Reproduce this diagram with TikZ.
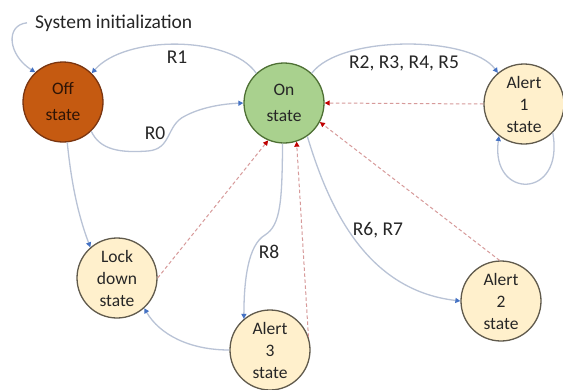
\documentclass[tikz,border=0pt]{standalone}
\usepackage{fontspec}
\setmainfont{Carlito}
\usetikzlibrary{arrows.meta}
\definecolor{offfill}{HTML}{C55A11}
\definecolor{offdraw}{HTML}{7A3510}
\definecolor{offtext}{HTML}{2E1406}
\definecolor{onfill}{HTML}{A9D18E}
\definecolor{ondraw}{HTML}{4E7034}
\definecolor{alfill}{HTML}{FFF0CC}
\definecolor{aldraw}{HTML}{605A4C}
\definecolor{edge}{HTML}{B9C3D6}
\definecolor{tipblue}{HTML}{4472C4}
\definecolor{dash}{HTML}{D79A9A}
\definecolor{tipred}{HTML}{C00000}
\definecolor{txt}{HTML}{262626}
\begin{document}
\begin{tikzpicture}[x=1pt,y=-1pt,
  state/.style={circle, minimum size=80pt, inner sep=0pt, line width=1.3pt, align=center,
    font=\fontsize{17.5}{22}\selectfont, text=txt, execute at begin node={\rule{0pt}{20pt}}},
  offst/.style={state, fill=offfill, draw=offdraw, text=offtext},
  onst/.style={state, fill=onfill, draw=ondraw},
  alst/.style={state, fill=alfill, draw=aldraw},
  lbl/.style={font=\fontsize{19.5}{23}\selectfont, text=txt, inner sep=0pt},
  trans/.style={draw=edge, line width=1.3pt, -{Triangle[length=5pt,width=5pt,color=tipblue]}},
  ret/.style={draw=dash, line width=1pt, dash pattern=on 3.5pt off 2.5pt, -{Triangle[length=5pt,width=5pt,color=tipred]}}
]
\useasboundingbox (0,0) rectangle (563,389);
\fill[white] (0,0) rectangle (563,389);

\node[offst] (off) at (63,102) {Off\\[4pt]state};
\node[onst] (on) at (284,103) {On\\[4pt]state};
\node[alst] (a1) at (524,104) {Alert\\1\\state};
\node[alst] (lock) at (117,278) {Lock\\down\\state};
\node[alst] (a3) at (270,350) {Alert\\3\\state};
\node[alst] (a2) at (501,301) {Alert\\2\\state};

\node[lbl, anchor=base west, inner xsep=8pt] (init) at (27,28) {System initialization};
\node[lbl] (r1) at (177,57) {R1};
\node[lbl] (r0) at (155,133) {R0};
\node[lbl] (r25) at (404,63) {R2, R3, R4, R5};
\node[lbl] (r67) at (378,230) {R6, R7};
\node[lbl] (r8) at (269,252) {R8};

% solid transitions
\draw[trans] (init.west) .. controls (5,25) and (8,55) .. (off.133);
\draw[trans] (on.133) .. controls (230,35) and (125,35) .. (off.45);
\draw[trans] (off.-46) .. controls (100,150) and (120,153) .. (148,151)
   .. controls (172,149) and (166,125) .. (185,116) .. controls (200,108) and (220,104) .. (on.180);
\draw[trans] (on.47) .. controls (340,35) and (470,35) .. (a1.130);
\draw[trans] (a1.-45) .. controls (565,200) and (490,200) .. (a1.-128);
\draw[trans] (on.-55) .. controls (328,205) and (365,290) .. (a2.180);
\draw[trans] (on.-92) .. controls (282,200) and (281,225) .. (265,235)
   .. controls (248,245) and (244,280) .. (a3.130);
\draw[trans] (a3.180) .. controls (190,350) and (160,335) .. (lock.-48);
\draw[trans] (off.-84) .. controls (72,190) and (80,220) .. (lock.131);

% dashed returns
\draw[ret] (a1.180) -- (on.0);
\draw[ret] (a2.92) -- (on.-28);
\draw[ret] (a3.19) -- (on.-72);
\draw[ret] (lock.0) -- (on.-113);
\end{tikzpicture}
\end{document}
